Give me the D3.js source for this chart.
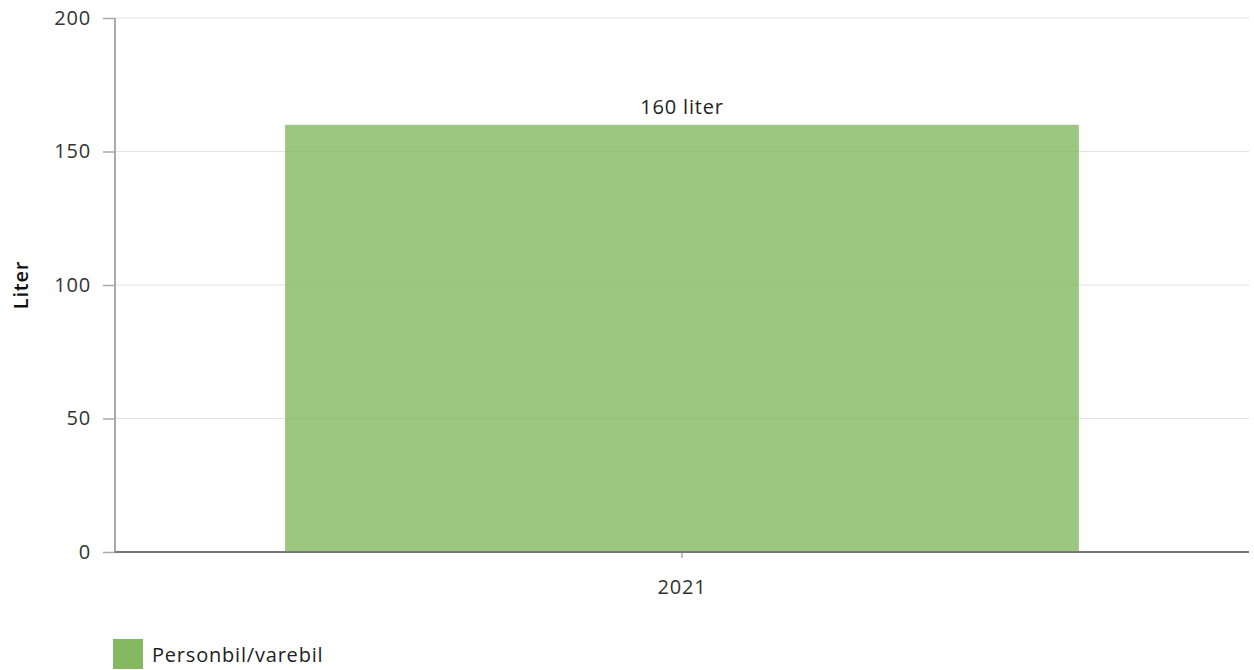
<!DOCTYPE html>
<html><head><meta charset="utf-8">
<script src="https://cdn.jsdelivr.net/npm/d3@7"></script>
<style>body{margin:0;background:#fff;font-family:"Open Sans",Lato,sans-serif;} text{letter-spacing:0.8px;}</style>
</head><body><svg id="c" width="1254" height="670"></svg>
<script>
const categories = ["2021"];
const values = [160];
const labels = ["160 liter"];
const yTicks = [0, 50, 100, 150, 200];
const seriesName = "Personbil/varebil";
const yTitle = "Liter";

const svg = d3.select("#c");
const L = 115, R = 1249, T = 18, B = 552;
const x = d3.scaleBand().domain(categories).range([L, R]).paddingInner(0.3).paddingOuter(0.15);
const y = d3.scaleLinear().domain([0, 200]).range([B, T]);

// grid
svg.append("g").selectAll("line").data(yTicks.filter(d => d > 0)).join("line")
  .attr("x1", L).attr("x2", R).attr("y1", d => y(d)).attr("y2", d => y(d))
  .attr("stroke", "#e3e3e3").attr("stroke-width", 1);

// bars
svg.append("g").selectAll("rect").data(values).join("rect")
  .attr("x", (d, i) => x(categories[i])).attr("width", x.bandwidth())
  .attr("y", d => y(d)).attr("height", d => B - y(d))
  .attr("fill", "#84b962").attr("fill-opacity", 0.8);

// value labels
svg.append("g").selectAll("text").data(values).join("text")
  .attr("x", (d, i) => x(categories[i]) + x.bandwidth() / 2).attr("y", d => y(d) - 11)
  .attr("text-anchor", "middle").attr("font-size", 20).attr("fill", "#222")
  .text((d, i) => labels[i]);

// y axis
const ya = svg.append("g").attr("transform", `translate(${L},0)`)
  .call(d3.axisLeft(y).tickValues(yTicks).tickSize(12).tickPadding(12));
ya.select(".domain").attr("stroke", "#aaa").attr("stroke-width", 2).attr("d", `M0,${T}V${B}`);
ya.selectAll(".tick line").attr("stroke", "#aaa").attr("stroke-width", 1.5);
ya.selectAll(".tick text").attr("font-size", 20).attr("fill", "#333").attr("font-family", "'Open Sans',sans-serif");

// x axis
const xa = svg.append("g").attr("transform", `translate(0,${B})`)
  .call(d3.axisBottom(x).tickSize(6).tickPadding(22));
xa.select(".domain").attr("stroke", "#777").attr("stroke-width", 2).attr("d", `M${L},0H${R}`);
xa.selectAll(".tick line").attr("stroke", "#888");
xa.selectAll(".tick text").attr("font-size", 20).attr("fill", "#333").attr("font-family", "'Open Sans',sans-serif");

// y title
svg.append("text").attr("transform", `translate(28,${(T + B) / 2}) rotate(-90)`)
  .attr("text-anchor", "middle").attr("font-size", 20).attr("font-weight", 600).attr("fill", "#111")
  .text(yTitle);

// legend
const lg = svg.append("g").attr("transform", "translate(113,639)");
lg.append("rect").attr("width", 30).attr("height", 30).attr("fill", "#84b962");
lg.append("text").attr("x", 39).attr("y", 23).attr("font-size", 20).attr("fill", "#222").text(seriesName);
</script></body></html>
